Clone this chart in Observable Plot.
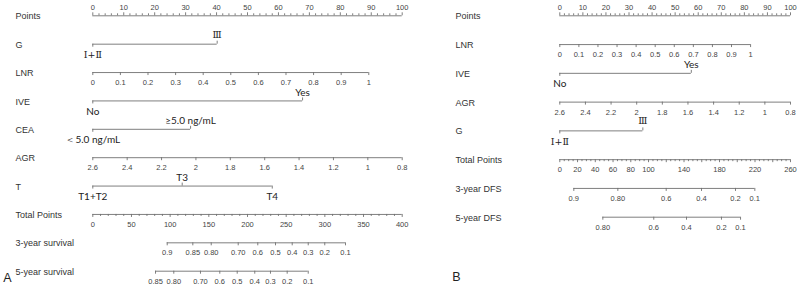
<!DOCTYPE html>
<html><head><meta charset="utf-8">
<script src="https://cdn.jsdelivr.net/npm/d3@7"></script>
<script src="https://cdn.jsdelivr.net/npm/@observablehq/plot@0.6"></script>
<style>
body{margin:0;background:#fff;}
#wrap{display:flex;width:800px;height:285px;overflow:hidden;}
#wrap svg{overflow:visible;background:transparent;}
</style></head><body><div id="wrap"></div>
<script>
// ===================== Panel A data =====================
const rowsA = ["Points","G","LNR","IVE","CEA","AGR","T","Total Points","3-year survival","5-year survival"];
const pointsLabels = [0,10,20,30,40,50,60,70,80,90,100];
const gLabelsA = ["Ⅰ+Ⅱ","Ⅲ"];            const gPointsA = [0, 40.2];
const lnrLabels = [0,0.1,0.2,0.3,0.4,0.5,0.6,0.7,0.8,0.9,1];
const lnrPointsAtOneA = 89.2;
const iveLabels = ["No","Yes"];             const ivePointsA = [0, 67.8];
const ceaLabels = ["＜5.0 ng/mL","≥5.0 ng/mL"]; const ceaPointsA = [0, 31.6];
const agrLabels = [2.6,2.4,2.2,2,1.8,1.6,1.4,1.2,1,0.8];
const tLabels = ["T1+T2","T3","T4"];        const tPointsA = [0, 28.9, 58];
const totalLabelsA = [0,50,100,150,200,250,300,350,400];
const surv3LabelsA = ["0.9","0.85","0.80","0.70","0.6","0.5","0.4","0.3","0.2","0.1"];
const surv3TotalA  = [96.2,129.3,153.1,188,213.3,236.2,257.8,278.5,299.9,326.7];
const surv5LabelsA = ["0.85","0.80","0.70","0.6","0.5","0.4","0.3","0.2","0.1"];
const surv5TotalA  = [81.1,104.7,139.2,164.2,186.7,209.4,229.7,251.3,278.5];

// ===================== Panel B data =====================
const rowsB = ["Points","LNR","IVE","AGR","G","Total Points","3-year DFS","5-year DFS"];
const lnrPointsAtOneB = 82.7;
const ivePointsB = [0, 57];
const gLabelsB = ["Ⅰ+Ⅱ","Ⅲ"];            const gPointsB = [0, 36];
const totalLabelsB = [0,20,40,60,80,100,140,180,220,260];
const totalUnlabeledB = [120,160,200,240];
const dfs3LabelsB = ["0.9","0.80","0.6","0.4","0.2","0.1"];
const dfs3TotalB  = [15.8,65.4,119.9,159.7,198,219.8];
const dfs5LabelsB = ["0.80","0.6","0.4","0.2","0.1"];
const dfs5TotalB  = [48.5,105.9,142.8,182.2,203.7];

// ===================== helpers =====================
const LINE = "#707070";
const agrToPts = v => (agrLabels[0] - v) / (agrLabels[0] - agrLabels[agrLabels.length-1]) * 100;

function build(specs) {
  const lines = [], ticks = [], labels = [];
  specs.forEach((s, row) => {
    const all = [...s.pts, ...(s.minor || []), ...(s.extra || [])];
    lines.push({row, x1: d3.min(all), x2: d3.max(all)});
    s.pts.forEach((x, i) => {
      const side = s.sides ? s.sides[i] : s.side;
      ticks.push({row, x, dir: side === "above" ? "up" : "down", size: "major"});
      labels.push({row, x, text: String(s.text[i]), side, kind: s.kind || "num"});
    });
    (s.extra || []).forEach(x => ticks.push({row, x, dir: s.side === "above" ? "up" : "down", size: "major"}));
    (s.minor || []).forEach(x => ticks.push({row, x, dir: s.side === "above" ? "up" : "down", size: "minor"}));
  });
  return {lines, ticks, labels};
}

function panel({rows, specs, width, marginLeft, marginRight, yRange, labelDx, letter, letterDx, letterDy}) {
  const {lines, ticks, labels} = build(specs);
  const tickMark = (dir, size, len) => Plot.ruleX(
    ticks.filter(d => d.dir === dir && d.size === size),
    {x: "x", y1: "row", y2: "row", stroke: LINE, strokeWidth: 0.9,
     ...(dir === "up" ? {insetTop: -len} : {insetBottom: -len})});
  const styles = {
    num:   {fontFamily: "Liberation Sans, Arial, sans-serif", fontSize: 7.5, fill: "#444", above: -8.5, below: 10},
    cat:   {fontFamily: "Lato, sans-serif", fontSize: 10, fill: "#222", above: -8.5, below: 10.5},
    roman: {fontFamily: "DejaVu Serif, serif", fontSize: 9.5, fill: "#222", above: -9.5, below: 11}
  };
  const textMarks = [];
  for (const kind of ["num", "cat", "roman"]) {
    for (const side of ["above", "below"]) {
      const st = styles[kind];
      textMarks.push(Plot.text(labels.filter(d => d.kind === kind && d.side === side), {
        x: "x", y: "row", text: "text", textAnchor: "middle", lineAnchor: "middle",
        dy: st[side], fontFamily: st.fontFamily, fontSize: st.fontSize, fill: st.fill
      }));
    }
  }
  return Plot.plot({
    width, height: 285, marginLeft, marginRight, marginTop: 0, marginBottom: 0,
    style: {fontFamily: "Liberation Sans, Arial, sans-serif", background: "transparent", overflow: "visible"},
    x: {domain: [0, 100], axis: null},
    y: {type: "linear", domain: [0, rows.length - 1], range: yRange, axis: null},
    marks: [
      Plot.ruleY(lines, {x1: "x1", x2: "x2", y: "row", stroke: LINE, strokeWidth: 0.9}),
      tickMark("up", "major", 3), tickMark("up", "minor", 2),
      tickMark("down", "major", 3), tickMark("down", "minor", 2),
      ...textMarks,
      Plot.text(rows, {y: (d, i) => i, text: d => d, frameAnchor: "left", dx: labelDx, dy: 0.7,
        textAnchor: "start", lineAnchor: "middle", fontSize: 9, fill: "#333"}),
      Plot.text([letter], {frameAnchor: "bottom-left", dx: letterDx, dy: letterDy, textAnchor: "start",
        lineAnchor: "bottom", fontSize: 12.5, fill: "#222"})
    ]
  });
}

const minorEvery = (max, step, skip) => d3.range(0, max + 1e-9, step).filter(v => Math.abs(v / skip - Math.round(v / skip)) > 1e-6);

// ===================== Panel A =====================
const totA = totalLabelsA[totalLabelsA.length - 1];
const specsA = [
  {pts: pointsLabels, text: pointsLabels, side: "above", minor: minorEvery(100, 2, 10)},
  {pts: gPointsA, text: gLabelsA, sides: ["below", "above"], kind: "roman"},
  {pts: lnrLabels.map(v => v * lnrPointsAtOneA), text: lnrLabels, side: "below"},
  {pts: ivePointsA, text: iveLabels, sides: ["below", "above"], kind: "cat"},
  {pts: ceaPointsA, text: ceaLabels, sides: ["below", "above"], kind: "cat"},
  {pts: agrLabels.map(agrToPts), text: agrLabels, side: "below"},
  {pts: tPointsA, text: tLabels, sides: ["below", "above", "below"], kind: "cat"},
  {pts: totalLabelsA.map(v => v * 100 / totA), text: totalLabelsA, side: "below",
   minor: minorEvery(totA, 10, 50).map(v => v * 100 / totA)},
  {pts: surv3TotalA.map(v => v * 100 / totA), text: surv3LabelsA, side: "below"},
  {pts: surv5TotalA.map(v => v * 100 / totA), text: surv5LabelsA, side: "below"}
];
const plotA = panel({rows: rowsA, specs: specsA, width: 410, marginLeft: 92.3, marginRight: 8.3,
  yRange: [15.3, 270.7], labelDx: -77.3, letter: "A", letterDx: -89.6, letterDy: -3.5});

// ===================== Panel B =====================
const totB = totalLabelsB[totalLabelsB.length - 1];
const specsB = [
  {pts: pointsLabels, text: pointsLabels, side: "above", minor: minorEvery(100, 2, 10)},
  {pts: lnrLabels.map(v => v * lnrPointsAtOneB), text: lnrLabels, side: "below"},
  {pts: ivePointsB, text: iveLabels, sides: ["below", "above"], kind: "cat"},
  {pts: agrLabels.map(agrToPts), text: agrLabels, side: "below"},
  {pts: gPointsB, text: gLabelsB, sides: ["below", "above"], kind: "roman"},
  {pts: totalLabelsB.map(v => v * 100 / totB), text: totalLabelsB, side: "below",
   extra: totalUnlabeledB.map(v => v * 100 / totB),
   minor: minorEvery(totB, 5, 20).map(v => v * 100 / totB)},
  {pts: dfs3TotalB.map(v => v * 100 / totB), text: dfs3LabelsB, side: "below"},
  {pts: dfs5TotalB.map(v => v * 100 / totB), text: dfs5LabelsB, side: "below"}
];
const plotB = panel({rows: rowsB, specs: specsB, width: 390, marginLeft: 149.3, marginRight: 10,
  yRange: [15.3, 216.7], labelDx: -104.3, letter: "B", letterDx: -107.6, letterDy: -4.3});

document.getElementById("wrap").append(plotA, plotB);
</script></body></html>
